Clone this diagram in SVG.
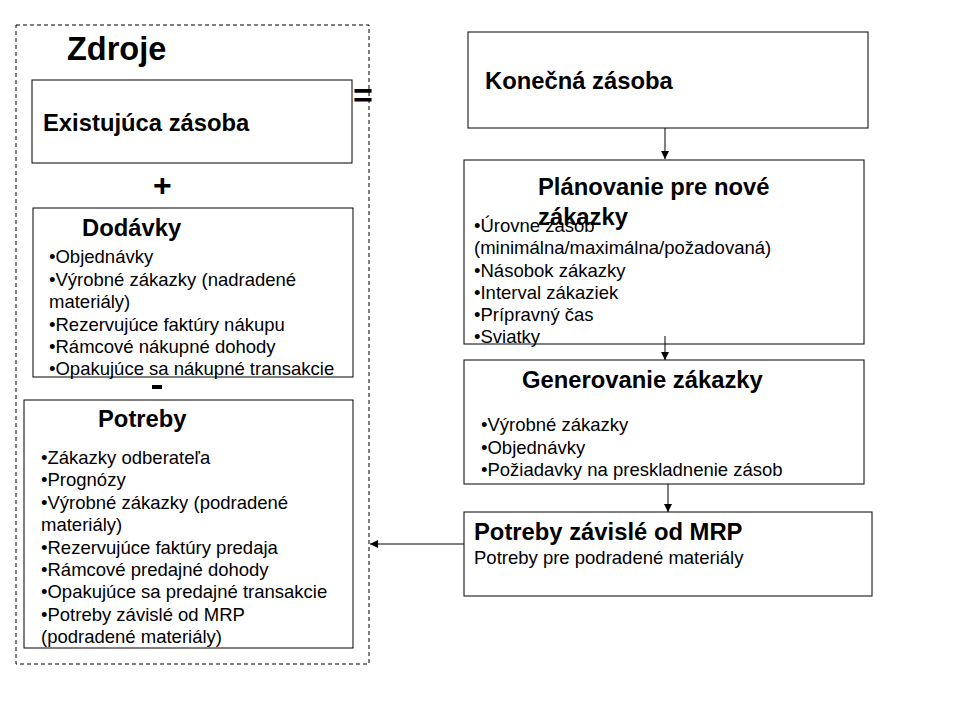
<svg xmlns="http://www.w3.org/2000/svg" width="960" height="720" viewBox="0 0 960 720">
<defs>
<style>
.box{fill:#fff;stroke:#000;stroke-width:1}
.h{font-family:"Liberation Sans",Arial,sans-serif;font-weight:bold;font-size:23.8px;fill:#000}
.t{font-family:"Liberation Sans",Arial,sans-serif;font-size:18.5px;fill:#000}
.op{font-family:"Liberation Sans",Arial,sans-serif;font-weight:bold;fill:#000}
.c{stroke:#000;stroke-width:1;fill:none}
</style>
<marker id="arr" viewBox="0 0 10 10" refX="10" refY="5" markerWidth="8" markerHeight="8" markerUnits="userSpaceOnUse" orient="auto">
<path d="M0,0 L10,5 L0,10 z" fill="#000"/>
</marker>
</defs>
<rect width="960" height="720" fill="#fff"/>
<g id="zdroje">
<rect x="16" y="25" width="353" height="639" fill="none" stroke="#000" stroke-width="1" stroke-dasharray="4,3"/>
<text x="67" y="60" class="op" font-size="32.5">Zdroje</text>
</g>
<g id="existujuca">
<rect class="box" x="32" y="80" width="320" height="83"/>
<text x="43" y="131" class="h">Existujúca zásoba</text>
</g>
<g id="ops">
<text x="353" y="107" class="op" font-size="34">=</text>
<text x="153" y="196" class="op" font-size="32">+</text>
<rect x="152" y="385" width="10" height="4" fill="#000"/>
</g>
<g id="dodavky">
<rect class="box" x="33" y="208" width="320" height="169"/>
<text x="82" y="236" class="h">Dodávky</text>
<text class="t">
<tspan x="49" y="263">•Objednávky</tspan>
<tspan x="49" y="286">•Výrobné zákazky  (nadradené</tspan>
<tspan x="49" y="308">materiály)</tspan>
<tspan x="49" y="331">•Rezervujúce faktúry nákupu</tspan>
<tspan x="49" y="353">•Rámcové nákupné dohody</tspan>
<tspan x="49" y="375">•Opakujúce sa nákupné transakcie</tspan>
</text>
</g>
<g id="potreby">
<rect class="box" x="24" y="400" width="329" height="248"/>
<text x="98" y="427" class="h">Potreby</text>
<text class="t">
<tspan x="41" y="464">•Zákazky odberateľa</tspan>
<tspan x="41" y="486">•Prognózy</tspan>
<tspan x="41" y="509">•Výrobné zákazky  (podradené</tspan>
<tspan x="41" y="531">materiály)</tspan>
<tspan x="41" y="554">•Rezervujúce faktúry predaja</tspan>
<tspan x="41" y="576">•Rámcové predajné dohody</tspan>
<tspan x="41" y="598">•Opakujúce sa predajné transakcie</tspan>
<tspan x="41" y="621">•Potreby závislé od MRP</tspan>
<tspan x="41" y="643">(podradené materiály)</tspan>
</text>
</g>
<g id="konecna">
<rect class="box" x="468" y="32" width="400" height="96"/>
<text x="485" y="89" class="h">Konečná zásoba</text>
</g>
<g id="planovanie">
<rect class="box" x="464" y="160" width="400" height="184"/>
<text class="t">
<tspan x="474" y="232">•Úrovne zásob</tspan>
<tspan x="474" y="254">(minimálna/maximálna/požadovaná)</tspan>
<tspan x="474" y="277">•Násobok zákazky</tspan>
<tspan x="474" y="299">•Interval zákaziek</tspan>
<tspan x="474" y="321">•Prípravný čas</tspan>
<tspan x="474" y="343">•Sviatky</tspan>
</text>
<text class="h">
<tspan x="538" y="195">Plánovanie pre nové</tspan>
<tspan x="538" y="225">zákazky</tspan>
</text>
</g>
<g id="generovanie">
<rect class="box" x="464" y="360" width="400" height="124"/>
<text x="522" y="388" class="h">Generovanie zákazky</text>
<text class="t">
<tspan x="481" y="431">•Výrobné zákazky</tspan>
<tspan x="481" y="454">•Objednávky</tspan>
<tspan x="481" y="476">•Požiadavky na preskladnenie zásob</tspan>
</text>
</g>
<g id="mrp">
<rect class="box" x="464" y="512" width="408" height="84"/>
<text x="474" y="540" class="h" font-size="25.5">Potreby závislé od MRP</text>
<text x="474" y="564" class="t">Potreby pre podradené materiály</text>
</g>
<g id="connectors">
<line class="c" x1="665" y1="128" x2="665" y2="159" marker-end="url(#arr)"/>
<line class="c" x1="665" y1="336" x2="665" y2="360" marker-end="url(#arr)"/>
<line class="c" x1="668" y1="484" x2="668" y2="512" marker-end="url(#arr)"/>
<line class="c" x1="464" y1="544" x2="370" y2="544" marker-end="url(#arr)"/>
</g>
</svg>
